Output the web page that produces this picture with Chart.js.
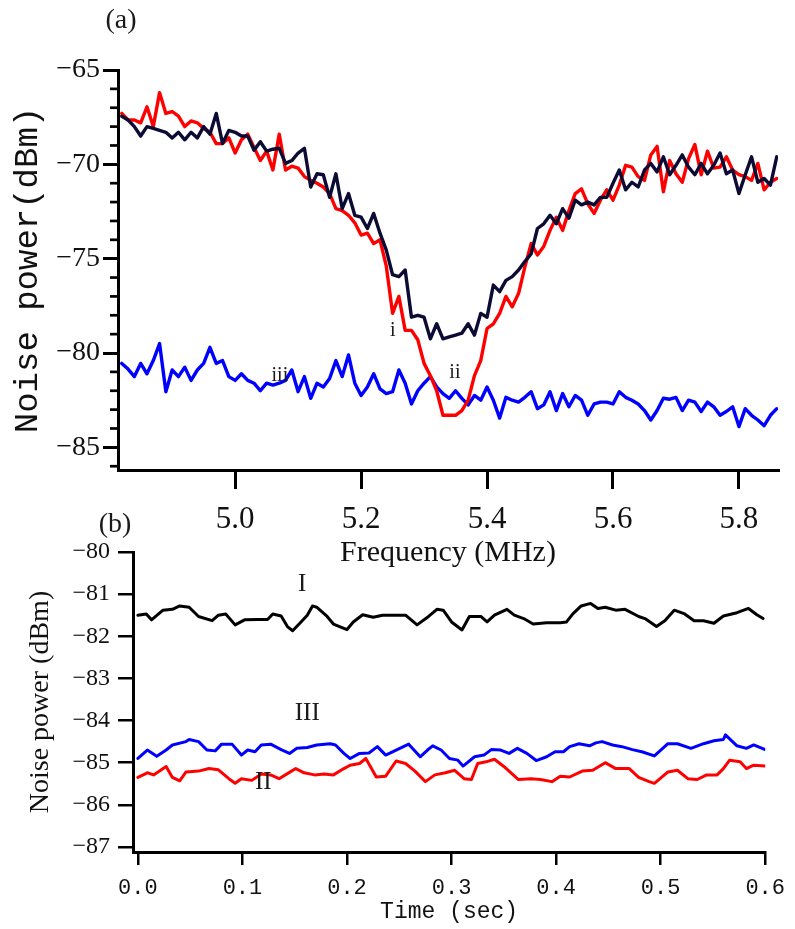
<!DOCTYPE html>
<html><head><meta charset="utf-8">
<script src="https://cdn.jsdelivr.net/npm/chart.js@4.4.1/dist/chart.umd.min.js"></script>
<style>
html,body{margin:0;padding:0;background:#fff;width:795px;height:929px;overflow:hidden}
#wrap{position:relative;width:795px;height:929px}
canvas{position:absolute;left:0}
#ca{top:0}
#cb{top:500px}
</style></head><body><div id="wrap"><canvas id="cb" width="795" height="429"></canvas><canvas id="ca" width="795" height="580"></canvas></div>
<script>
// ---------- Panel (a): noise power vs frequency ----------
const freqA = [4.82,4.83,4.84,4.85,4.86,4.87,4.88,4.89,4.90,4.91,4.92,4.93,4.94,4.95,4.96,4.97,4.98,4.99,
5.00,5.01,5.02,5.03,5.04,5.05,5.06,5.07,5.08,5.09,5.10,5.11,5.12,5.13,5.14,5.15,5.16,5.17,5.18,5.19,
5.20,5.21,5.22,5.23,5.24,5.25,5.26,5.27,5.28,5.29,5.30,5.31,5.32,5.33,5.34,5.35,5.36,5.37,5.38,5.39,
5.40,5.41,5.42,5.43,5.44,5.45,5.46,5.47,5.48,5.49,5.50,5.51,5.52,5.53,5.54,5.55,5.56,5.57,5.58,5.59,
5.60,5.61,5.62,5.63,5.64,5.65,5.66,5.67,5.68,5.69,5.70,5.71,5.72,5.73,5.74,5.75,5.76,5.77,5.78,5.79,
5.80,5.81,5.82,5.83,5.84,5.85,5.86];
const traceNavy = [-67.45,-67.65,-68.0,-68.5,-68.0,-68.1,-68.2,-68.3,-68.6,-68.3,
-68.7,-68.3,-68.6,-68.0,-68.4,-67.3,-68.9,-68.2,-68.3,-68.5,
-68.5,-69.25,-68.8,-69.3,-69.2,-69.15,-69.95,-69.8,-69.4,-69.15,
-71.2,-70.5,-70.55,-71.75,-70.5,-72.35,-71.55,-72.7,-72.8,-73.4,
-72.6,-73.65,-74.55,-75.85,-75.95,-75.6,-78.1,-78.0,-78.1,-79.25,
-78.45,-79.25,-79.15,-79.05,-78.95,-78.45,-79.05,-77.9,-78.1,-76.4,
-76.75,-76.15,-75.95,-75.6,-75.15,-74.75,-73.4,-73.15,-72.7,-73.15,
-72.35,-72.85,-71.9,-72.15,-72.0,-72.15,-71.75,-71.75,-71.0,-70.3,
-71.35,-70.95,-71.2,-70.3,-69.95,-70.4,-69.6,-70.55,-70.05,-69.5,
-70.15,-70.55,-69.95,-70.5,-70.05,-69.4,-70.5,-70.3,-71.55,-70.55,
-69.6,-70.95,-70.75,-71.1,-69.6];
const traceRed = [-67.3,-67.65,-67.65,-67.8,-66.95,-68.0,-66.2,-67.3,-67.2,-67.45,
-68.0,-67.7,-67.8,-68.1,-68.3,-68.9,-68.9,-68.6,-69.4,-68.7,
-68.4,-69.1,-69.8,-69.3,-70.3,-68.4,-70.3,-70.1,-70.2,-70.65,
-70.85,-71.0,-71.2,-71.55,-72.35,-72.45,-72.7,-73.1,-73.75,-73.65,
-74.2,-74.0,-75.4,-77.9,-77.0,-78.8,-78.8,-79.3,-80.55,-81.2,
-82.0,-83.3,-83.3,-83.3,-83.05,-82.5,-81.2,-80.4,-78.7,-78.45,
-77.9,-77.0,-77.55,-76.85,-75.45,-74.2,-74.8,-74.35,-73.5,-72.8,
-73.5,-72.45,-71.55,-71.3,-72.1,-72.6,-71.9,-71.35,-71.9,-71.1,
-70.05,-70.15,-70.65,-70.85,-69.5,-69.05,-71.45,-69.8,-70.5,-70.95,
-69.7,-68.95,-70.55,-69.3,-70.2,-70.15,-69.6,-70.3,-70.55,-70.65,
-70.85,-69.95,-71.35,-70.95,-70.75];
const traceBlue = [-80.55,-80.85,-81.25,-80.55,-81.1,-80.4,-79.5,-82.05,-80.9,-81.25,
-80.75,-81.45,-80.9,-80.55,-79.7,-80.55,-80.4,-81.25,-81.45,-81.1,
-81.45,-81.6,-82.0,-81.6,-81.7,-81.6,-81.45,-80.9,-82.05,-81.25,
-82.4,-81.6,-81.8,-81.35,-80.4,-81.25,-80.1,-81.6,-82.25,-81.8,
-81.1,-81.9,-82.15,-82.05,-80.9,-81.6,-82.7,-82.0,-81.6,-81.25,
-81.8,-82.15,-82.4,-82.0,-82.4,-82.75,-82.25,-82.5,-81.8,-82.5,
-83.45,-82.35,-82.5,-82.6,-82.35,-82.05,-82.95,-82.75,-82.05,-83.05,
-82.15,-82.85,-82.25,-82.5,-83.3,-82.7,-82.6,-82.6,-82.7,-82.05,
-82.35,-82.5,-82.7,-83.05,-83.55,-83.05,-82.4,-82.45,-82.35,-83.05,
-82.5,-82.6,-83.1,-82.6,-82.85,-83.3,-83.1,-82.85,-83.9,-82.95,
-83.3,-83.55,-83.85,-83.3,-82.95];
const freqTicks = [5.0,5.2,5.4,5.6,5.8];
const powerTicksA = [-85,-80,-75,-70,-65];
const powerMinorA = [-86,-84,-83,-82,-81,-79,-78,-77,-76,-74,-73,-72,-71,-69,-68,-67,-66];
const labelsA = [{text:'i', x:5.2505, y:-78.8},{text:'ii', x:5.349, y:-81.07},{text:'iii', x:5.071, y:-81.18}];

// ---------- Panel (b): noise power vs time ----------
const timeI = [0,0.008,0.013,0.024,0.033,0.04,0.049,0.058,0.071,0.077,
0.084,0.093,0.102,0.115,0.124,0.129,0.137,0.143,0.148,0.156,
0.162,0.167,0.171,0.181,0.187,0.2,0.206,0.215,0.225,0.234,
0.247,0.256,0.267,0.278,0.286,0.292,0.3,0.31,0.317,0.328,
0.334,0.341,0.353,0.36,0.369,0.378,0.391,0.404,0.41,0.416,
0.424,0.433,0.44,0.447,0.457,0.466,0.479,0.485,0.496,0.504,
0.513,0.523,0.532,0.541,0.551,0.56,0.573,0.584,0.592,0.598];
const powerI = [-81.5,-81.47,-81.61,-81.38,-81.36,-81.28,-81.31,-81.53,-81.63,-81.5,
-81.47,-81.73,-81.61,-81.6,-81.6,-81.47,-81.52,-81.77,-81.87,-81.66,
-81.5,-81.28,-81.31,-81.53,-81.71,-81.84,-81.66,-81.49,-81.55,-81.5,
-81.5,-81.5,-81.73,-81.53,-81.36,-81.38,-81.66,-81.85,-81.53,-81.53,
-81.66,-81.5,-81.36,-81.5,-81.58,-81.71,-81.68,-81.68,-81.66,-81.47,
-81.28,-81.22,-81.34,-81.31,-81.38,-81.36,-81.53,-81.58,-81.77,-81.63,
-81.38,-81.47,-81.63,-81.63,-81.69,-81.52,-81.44,-81.34,-81.49,-81.58];
const timeII = [0,0.009,0.015,0.027,0.033,0.04,0.046,0.058,0.068,0.077,
0.087,0.093,0.099,0.109,0.118,0.127,0.135,0.143,0.151,0.159,
0.169,0.178,0.187,0.197,0.203,0.212,0.218,0.228,0.237,0.247,
0.256,0.265,0.275,0.284,0.294,0.303,0.312,0.319,0.325,0.333,
0.341,0.35,0.364,0.376,0.385,0.396,0.404,0.413,0.425,0.435,
0.447,0.457,0.47,0.479,0.489,0.494,0.507,0.516,0.526,0.535,
0.544,0.554,0.56,0.566,0.576,0.582,0.589,0.6];
const powerII = [-85.35,-85.24,-85.29,-85.09,-85.35,-85.43,-85.22,-85.2,-85.14,-85.17,
-85.38,-85.49,-85.38,-85.42,-85.27,-85.29,-85.38,-85.26,-85.14,-85.24,
-85.29,-85.27,-85.29,-85.14,-85.06,-85.02,-84.9,-85.34,-85.32,-84.96,
-85.02,-85.2,-85.45,-85.29,-85.24,-85.18,-85.38,-85.4,-85.02,-84.98,
-84.92,-85.09,-85.4,-85.38,-85.4,-85.45,-85.32,-85.34,-85.2,-85.18,
-85.0,-85.14,-85.14,-85.35,-85.45,-85.49,-85.22,-85.18,-85.38,-85.4,
-85.29,-85.29,-85.14,-84.94,-84.98,-85.14,-85.06,-85.08];
const timeIII = [0,0.009,0.018,0.027,0.033,0.046,0.049,0.058,0.066,0.074,
0.08,0.09,0.099,0.105,0.112,0.118,0.127,0.137,0.145,0.152,
0.162,0.171,0.184,0.189,0.197,0.203,0.212,0.221,0.229,0.237,
0.247,0.259,0.27,0.277,0.282,0.29,0.298,0.306,0.311,0.322,
0.331,0.338,0.347,0.355,0.363,0.372,0.381,0.391,0.399,0.407,
0.413,0.422,0.432,0.438,0.444,0.454,0.463,0.473,0.482,0.494,
0.507,0.516,0.529,0.541,0.551,0.56,0.562,0.573,0.582,0.589,0.6];
const powerIII = [-84.9,-84.7,-84.85,-84.7,-84.58,-84.5,-84.45,-84.5,-84.7,-84.72,
-84.56,-84.56,-84.82,-84.7,-84.74,-84.58,-84.56,-84.69,-84.78,-84.66,
-84.64,-84.58,-84.55,-84.58,-84.78,-84.9,-84.78,-84.77,-84.62,-84.82,
-84.7,-84.56,-84.86,-84.7,-84.6,-84.7,-84.9,-84.94,-85.08,-84.86,
-84.82,-84.69,-84.7,-84.78,-84.66,-84.78,-84.95,-84.86,-84.74,-84.74,
-84.62,-84.55,-84.6,-84.53,-84.5,-84.58,-84.62,-84.69,-84.74,-84.84,
-84.55,-84.55,-84.66,-84.55,-84.48,-84.45,-84.34,-84.6,-84.66,-84.58,-84.69];
const timeTicks = [0.0,0.1,0.2,0.3,0.4,0.5,0.6];
const powerTicksB = [-87,-86,-85,-84,-83,-82,-81,-80];
const labelsB = [{text:'I', x:0.157, y:-80.78},{text:'III', x:0.162, y:-83.82},{text:'II', x:0.12, y:-85.48}];

// ---------- helpers ----------
const SERIF = "'Liberation Serif','Times New Roman',serif";
const MONO = "'Liberation Mono','DejaVu Sans Mono',monospace";
const minusFmt = v => (v < 0 ? '\u2212' : '') + Math.abs(v);
const pts = (xs, ys) => xs.map((x, i) => ({x: x, y: ys[i]}));

function annotPlugin(labels, labelFont, panel, minor) {
  return {
    id: 'annot',
    afterDraw(chart) {
      const ctx = chart.ctx, xs = chart.scales.x, ys = chart.scales.y, ca = chart.chartArea;
      ctx.save();
      if (minor) {
        ctx.strokeStyle = '#000'; ctx.lineWidth = minor.width;
        minor.values.forEach(v => {
          const y = ys.getPixelForValue(v);
          ctx.beginPath(); ctx.moveTo(ca.left - minor.len, y); ctx.lineTo(ca.left, y); ctx.stroke();
        });
      }
      ctx.fillStyle = '#1a1a1a'; ctx.textAlign = 'center'; ctx.textBaseline = 'middle';
      ctx.font = labelFont;
      labels.forEach(l => ctx.fillText(l.text, xs.getPixelForValue(l.x), ys.getPixelForValue(l.y)));
      ctx.font = panel.font;
      ctx.fillText(panel.text, panel.px, panel.py);
      ctx.restore();
    }
  };
}

function axisStyle(tickLen, tickW, borderW) {
  return {
    grid: {display: true, drawOnChartArea: false, drawTicks: true, tickLength: tickLen,
           tickWidth: tickW, tickColor: '#000', lineWidth: tickW, color: '#000'},
    border: {display: true, width: borderW, color: '#000'}
  };
}

const common = {
  responsive: false, animation: false, devicePixelRatio: 1,
  elements: {point: {radius: 0}, line: {tension: 0, borderJoinStyle: 'round', borderCapStyle: 'round'}},
  plugins: {legend: {display: false}, tooltip: {enabled: false}}
};

// ---------- chart (a) ----------
new Chart(document.getElementById('ca'), {
  type: 'line',
  data: {datasets: [
    {label: 'navy', data: pts(freqA, traceNavy), borderColor: '#0b0b33', borderWidth: 3.4},
    {label: 'red', data: pts(freqA, traceRed), borderColor: '#ff0000', borderWidth: 3.4},
    {label: 'blue', data: pts(freqA, traceBlue), borderColor: '#0000ff', borderWidth: 3.4}
  ]},
  options: Object.assign({}, common, {
    layout: {padding: {top: 70, right: 17, left: 0, bottom: 0}},
    scales: {
      x: Object.assign(axisStyle(19, 3, 3), {
        type: 'linear', min: 4.814, max: 5.862,
        afterBuildTicks: s => { s.ticks = freqTicks.map(v => ({value: v})); },
        afterFit: s => { s.height = 110; },
        ticks: {font: {family: SERIF, size: 31}, color: '#111', padding: 12, maxRotation: 0, autoSkip: false,
                callback: v => Number(v).toFixed(1)},
        title: {display: true, text: 'Frequency (MHz)', font: {family: SERIF, size: 30}, color: '#111',
                padding: {top: 0, bottom: 9}}
      }),
      y: Object.assign(axisStyle(15, 3, 3), {
        type: 'linear', min: -86.2, max: -65,
        afterBuildTicks: s => { s.ticks = powerTicksA.map(v => ({value: v})); },
        afterFit: s => { s.width = 118; },
        ticks: {font: {family: SERIF, size: 28}, color: '#111', padding: 3, callback: minusFmt},
        title: {display: true, text: 'Noise power(dBm)', font: {family: MONO, size: 34}, color: '#111',
                padding: {top: 8, bottom: 0}}
      })
    }
  }),
  plugins: [annotPlugin(labelsA, "20px " + SERIF, {text: '(a)', font: "28px " + SERIF, px: 121, py: 21},
                        {values: powerMinorA, len: 8, width: 2.7})]
});

// ---------- chart (b) ----------
new Chart(document.getElementById('cb'), {
  type: 'line',
  data: {datasets: [
    {label: 'I', data: pts(timeI, powerI), borderColor: '#000000', borderWidth: 3},
    {label: 'III', data: pts(timeIII, powerIII), borderColor: '#0000ff', borderWidth: 3},
    {label: 'II', data: pts(timeII, powerII), borderColor: '#ff0000', borderWidth: 3}
  ]},
  options: Object.assign({}, common, {
    layout: {padding: {top: 52, right: 20, left: 0, bottom: 0}},
    scales: {
      x: Object.assign(axisStyle(13, 2.5, 3), {
        type: 'linear', min: -0.0047, max: 0.6,
        afterBuildTicks: s => { s.ticks = timeTicks.map(v => ({value: v})); },
        afterFit: s => { s.height = 77; },
        ticks: {font: {family: MONO, size: 22}, color: '#111', padding: 10, maxRotation: 0, autoSkip: false,
                callback: v => Number(v).toFixed(1)},
        title: {display: true, text: 'Time (sec)', font: {family: MONO, size: 23}, color: '#111',
                padding: {top: 0, bottom: 3}}
      }),
      y: Object.assign(axisStyle(15, 2.5, 3), {
        type: 'linear', min: -87.12, max: -80,
        afterBuildTicks: s => { s.ticks = powerTicksB.map(v => ({value: v})); },
        afterFit: s => { s.width = 133; },
        ticks: {font: {family: SERIF, size: 24}, color: '#111', padding: 8, callback: minusFmt},
        title: {display: true, text: 'Noise power (dBm)', font: {family: SERIF, size: 28}, color: '#111',
                padding: {top: 24, bottom: 0}}
      })
    }
  }),
  plugins: [annotPlugin(labelsB, "25px " + SERIF, {text: '(b)', font: "28px " + SERIF, px: 115, py: 25}, null)]
});
</script>
</body></html>
